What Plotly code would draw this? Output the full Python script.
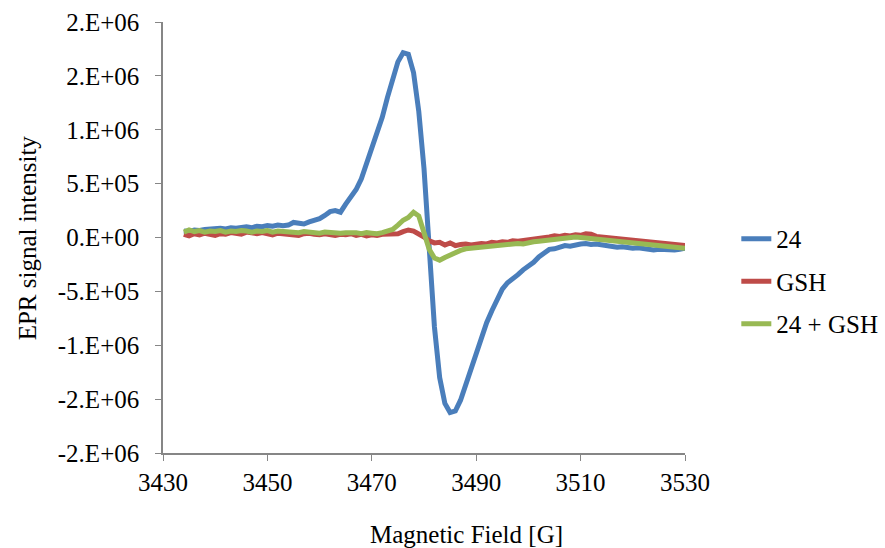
import plotly.graph_objects as go

# Magnetic field sweep (G)
field = list(range(3434, 3531))

# EPR signal intensity, in thousands of counts
sig_24 = [
    60, 55, 70, 65, 75, 80, 90, 85, 80, 90,
    85, 95, 100, 90, 105, 100, 110, 105, 115, 110,
    115, 140, 130, 125, 145, 155, 175, 205, 240, 250,
    235, 310, 370, 445, 545, 680, 825, 975, 1115, 1300,
    1470, 1630, 1715, 1700, 1530, 1170, 640, -40, -830, -1300,
    -1540, -1625, -1610, -1510, -1370, -1200, -1090, -950, -790, -680,
    -590, -480, -420, -385, -345, -300, -270, -230, -180, -150,
    -110, -105, -90, -75, -80, -65, -60, -55, -65, -60,
    -70, -75, -80, -90, -85, -95, -100, -95, -105, -110,
    -115, -110, -115, -110, -115, -110, -100,
]

sig_gsh = [
    30, 15, 35, 25, 40, 30, 20, 35, 30, 45,
    35, 30, 50, 40, 35, 45, 30, 25, 40, 35,
    25, 30, 20, 35, 40, 30, 25, 35, 30, 20,
    30, 25, 35, 20, 30, 15, 25, 20, 30, 35,
    40, 35, 55, 70, 60, 35, 5, -30, -50, -45,
    -70, -50, -75, -65, -60, -70, -60, -55, -60, -45,
    -50, -40, -45, -30, -35, -30, -20, -15, -5, 0,
    5, 15, 10, 20, 15, 25, 20, 35, 30, 10,
    5, 0, -10, -15, -20, -25, -30, -35, -40, -45,
    -50, -55, -60, -65, -70, -75, -75,
]

sig_24_gsh = [
    50, 70, 55, 65, 50, 60, 55, 65, 50, 60,
    55, 65, 60, 50, 60, 55, 65, 50, 60, 55,
    45, 50, 45, 55, 50, 45, 40, 50, 45, 50,
    40, 45, 50, 45, 35, 45, 40, 35, 45, 55,
    75, 115, 160, 185, 235, 200, 60, -110, -190, -210,
    -185, -160, -140, -120, -105, -100, -90, -85, -80, -75,
    -70, -75, -65, -60, -55, -60, -45, -40, -35, -30,
    -25, -20, -10, 0, -5, 5, 0, -5, -10, -15,
    -20, -25, -30, -40, -45, -50, -55, -60, -65, -70,
    -75, -80, -85, -90, -95, -95, -100,
]

series_names = ["24", "GSH", "24 + GSH"]
series_colors = ["#4A7EBB", "#BE4B48", "#98B954"]

# Axis ticks
x_ticks = [3430, 3450, 3470, 3490, 3510, 3530]
y_ticks = [2.0e6, 1.5e6, 1.0e6, 5.0e5, 0.0, -5.0e5, -1.0e6, -1.5e6, -2.0e6]
y_tick_text = [format(v, "#.0E") for v in y_ticks]

FONT = "Liberation Serif"
AXIS_GREY = "#868686"

fig = go.Figure()
for i, (name, vals, col) in enumerate(zip(series_names, [sig_24, sig_gsh, sig_24_gsh], series_colors)):
    fig.add_trace(go.Scatter(
        x=field,
        y=[v * 1e3 for v in vals],
        mode="lines",
        name=name,
        legendgroup=f"g{i}",
        line=dict(color=col, width=5),
    ))

fig.update_layout(
    width=885,
    height=548,
    margin=dict(l=163, r=200, t=22, b=95, autoexpand=False),
    paper_bgcolor="white",
    plot_bgcolor="white",
    font=dict(family=FONT, size=25, color="black"),
    showlegend=True,
    legend=dict(
        xref="container", yref="container",
        x=0.832, y=0.606, xanchor="left", yanchor="top",
        font=dict(family=FONT, size=25, color="black"),
        tracegroupgap=7,
        bgcolor="rgba(0,0,0,0)",
    ),
    xaxis=dict(
        range=[3430, 3530],
        tickvals=x_ticks,
        ticktext=[str(v) for v in x_ticks],
        showgrid=False,
        zeroline=False,
        showline=True,
        linecolor=AXIS_GREY,
        linewidth=1.5,
        ticks="outside",
        ticklen=6,
        tickcolor=AXIS_GREY,
        tickfont=dict(family=FONT, size=25, color="black"),
    ),
    yaxis=dict(
        range=[-2.0e6, 2.0e6],
        tickvals=y_ticks,
        ticktext=y_tick_text,
        showgrid=False,
        zeroline=False,
        showline=True,
        linecolor=AXIS_GREY,
        linewidth=1.5,
        ticks="outside",
        ticklen=6,
        tickcolor=AXIS_GREY,
        ticklabelstandoff=11,
        tickfont=dict(family=FONT, size=25, color="black"),
    ),
    annotations=[
        dict(
            text="Magnetic Field [G]",
            xref="paper", yref="paper",
            x=0.582, y=-0.19, xanchor="center", yanchor="middle",
            showarrow=False,
            font=dict(family=FONT, size=25, color="black"),
        ),
        dict(
            text="EPR signal intensity",
            xref="paper", yref="paper",
            x=-0.259, y=0.5, xanchor="center", yanchor="middle",
            textangle=-90,
            showarrow=False,
            font=dict(family=FONT, size=25, color="black"),
        ),
    ],
)

fig.write_html("out.html")
